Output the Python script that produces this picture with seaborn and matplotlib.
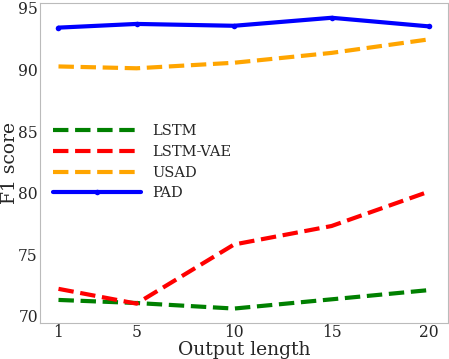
import matplotlib
matplotlib.use("Agg")
import matplotlib.pyplot as plt
import seaborn as sns
import pandas as pd

output_length = [1, 5, 10, 15, 20]
lstm = [71.3, 71.05, 70.6, 71.35, 72.1]
lstm_vae = [72.2, 71.0, 75.8, 77.3, 80.1]
usad = [90.25, 90.1, 90.55, 91.35, 92.45]
pad = [93.4, 93.7, 93.55, 94.2, 93.5]

series = [("LSTM", lstm, "green", "--", None),
          ("LSTM-VAE", lstm_vae, "red", "--", None),
          ("USAD", usad, "orange", "--", None),
          ("PAD", pad, "blue", "-", "o")]

sns.set_style("whitegrid")
plt.rcParams['font.family'] = ['DejaVu Serif']

fig, ax = plt.subplots(figsize=(4.49, 3.59), dpi=100)
for name, vals, color, ls, marker in series:
    df = pd.DataFrame({"x": output_length, "y": vals})
    sns.lineplot(data=df, x="x", y="y", ax=ax, color=color, linestyle=ls,
                 linewidth=3, marker=marker, markersize=4 if marker else None,
                 markeredgewidth=0, label=name)

ax.grid(False)
for s in ax.spines.values():
    s.set_color("#bbbbbb")
ax.set_xticks(output_length)
ax.set_xticklabels([str(v) for v in output_length])
ax.set_yticks([70, 75, 80, 85, 90, 95])
ax.tick_params(labelsize=11.2, length=0, pad=1.5)
ax.tick_params(axis="x", pad=1)
ax.set_xlabel("Output length", fontsize=13.5)
ax.set_ylabel("F1 score", fontsize=13.5)
ax.yaxis.set_label_coords(-0.052, 0.5)
ax.xaxis.set_label_coords(0.5, -0.055)
leg = ax.legend(loc="center left", bbox_to_anchor=(0.0, 0.503), frameon=False,
                fontsize=10.5, handlelength=6.0, handletextpad=0.8,
                labelspacing=0.47)
fig.subplots_adjust(left=0.089, right=0.997, top=0.991, bottom=0.10)
fig.savefig("out.png", dpi=100)
